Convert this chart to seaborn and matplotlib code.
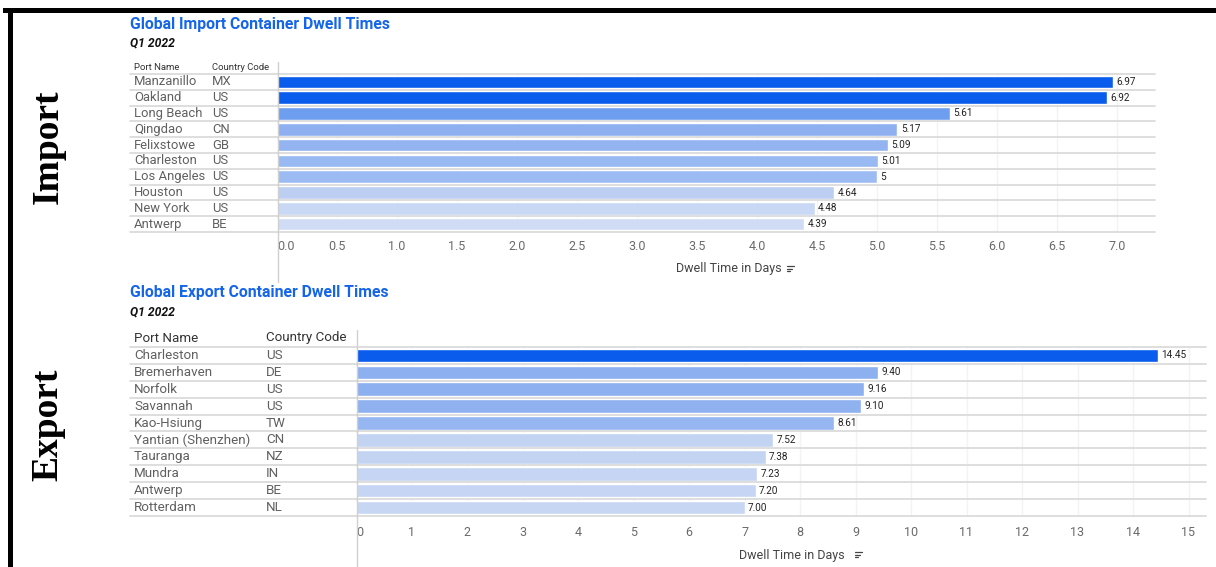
import matplotlib.pyplot as plt
import seaborn as sns
import pandas as pd
from matplotlib.lines import Line2D
from matplotlib.patches import Rectangle
from matplotlib.transforms import blended_transform_factory

W, H = 1216, 567

# Import chart data
import_ports = ["Manzanillo", "Oakland", "Long Beach", "Qingdao", "Felixstowe",
                "Charleston", "Los Angeles", "Houston", "New York", "Antwerp"]
import_codes = ["MX", "US", "US", "CN", "GB", "US", "US", "US", "US", "BE"]
import_days = [6.97, 6.92, 5.61, 5.17, 5.09, 5.01, 5.0, 4.64, 4.48, 4.39]
import_ticks = [0.0, 0.5, 1.0, 1.5, 2.0, 2.5, 3.0, 3.5, 4.0, 4.5, 5.0, 5.5, 6.0, 6.5, 7.0]

# Export chart data
export_ports = ["Charleston", "Bremerhaven", "Norfolk", "Savannah", "Kao-Hsiung",
                "Yantian (Shenzhen)", "Tauranga", "Mundra", "Antwerp", "Rotterdam"]
export_codes = ["US", "DE", "US", "US", "TW", "CN", "NZ", "IN", "BE", "NL"]
export_days = [14.45, 9.40, 9.16, 9.10, 8.61, 7.52, 7.38, 7.23, 7.20, 7.00]
export_ticks = list(range(16))

# bar colours (shaded by value, as in the original dashboard)
import_colors = ["#0a5ced", "#0a5ced", "#6e9ef0", "#8eb0f1", "#93b4f1",
                 "#99b9f2", "#9cbbf2", "#bccff3", "#c9d8f5", "#d0dcf5"]
export_colors = ["#0a5ced", "#8db0f0", "#8db0f0", "#8fb1f0", "#95b6f1",
                 "#c3d4f3", "#c3d4f3", "#c5d5f3", "#c5d5f3", "#c6d6f3"]

TITLE_BLUE = "#1565e8"
TEXT_GREY = "#606060"
LINE_GREY = "#d8d8d8"

sns.set_theme(style="white")
plt.rcParams["font.family"] = ["Roboto", "DejaVu Sans"]

fig = plt.figure(figsize=(W / 100, H / 100), dpi=100)


def fx(x):
    return x / W


def fy(y):
    return 1 - y / H


def rect(left, top, right, bottom):
    return [fx(left), fy(bottom), (right - left) / W, (bottom - top) / H]


def draw_panel(cfg):
    ax = fig.add_axes(rect(cfg["left"], cfg["top"], cfg["right"], cfg["bottom"]))
    df = pd.DataFrame({"port": cfg["ports"], "code": cfg["codes"], "days": cfg["days"]})
    sns.barplot(data=df, x="days", y="port", hue="port", palette=cfg["colors"],
                legend=False, orient="h", width=0.8, saturation=1, ax=ax)
    n = len(df)
    ax.set_ylim(n - 0.5, -0.5)
    ax.set_xlim(0, cfg["xmax"])
    ax.set_xticks(cfg["ticks"])
    ax.set_xticklabels(cfg["ticklabels"], color="#6a6a6a", fontsize=cfg["tick_fs"])
    ax.get_xticklabels()[0].set_horizontalalignment("left")
    ax.tick_params(axis="x", length=0, pad=cfg["pad"])
    ax.set_yticks([])
    ax.set_xlabel("")
    ax.set_ylabel("")
    for s in ax.spines.values():
        s.set_visible(False)
    ax.grid(axis="x", color="#f3f3f3", lw=1)
    ax.set_axisbelow(True)

    # value labels
    for i, (v, lab) in enumerate(zip(df["days"], cfg["labels"])):
        ax.annotate(lab, (v, i), xytext=(2.5, 0), textcoords="offset points",
                    va="center", ha="left", fontsize=cfg["val_fs"], color="#222222")

    # table part on the left
    tr = blended_transform_factory(fig.transFigure, ax.transData)
    for i, (p, c) in enumerate(zip(df["port"], df["code"])):
        ax.text(fx(134), i, p, transform=tr, va="center", ha="left",
                fontsize=cfg["row_fs"], color=TEXT_GREY, clip_on=False)
        ax.text(fx(cfg["code_x"]), i, c, transform=tr, va="center", ha="left",
                fontsize=cfg["row_fs"], color=TEXT_GREY, clip_on=False)
    for k in range(n + 1):
        ax.add_line(Line2D([fx(130), fx(cfg["right"])], [k - 0.5, k - 0.5], transform=tr,
                           color=LINE_GREY, lw=1.2, clip_on=False))

    # header row
    fig.text(fx(134), fy(cfg["head_y"]), "Port Name", va="center", ha="left",
             fontsize=cfg["head_fs"], color="#333333")
    fig.text(fx(cfg["code_x"]), fy(cfg["head_y"]), "Country Code", va="center", ha="left",
             fontsize=cfg["head_fs"], color="#333333")

    # vertical divider between table and bars
    fig.add_artist(Line2D([fx(cfg["left"] + 1)] * 2, [fy(cfg["vtop"]), fy(cfg["vbot"])],
                          color="#d0d0d0", lw=1))

    # titles
    fig.text(fx(130), fy(cfg["title_y"]), cfg["title"], va="center", ha="left",
             fontsize=11.3, fontweight="bold", color=TITLE_BLUE)
    fig.text(fx(130), fy(cfg["title_y"] + 19), "Q1 2022", va="center", ha="left",
             fontsize=8.7, fontweight="bold", fontstyle="italic", color="#111111")

    # axis title with sort icon
    lx, ly = cfg["xlabel_pos"]
    fig.text(fx(lx), fy(ly), "Dwell Time in Days", va="center", ha="center",
             fontsize=cfg["tick_fs"], color="#444444")
    ix = cfg["icon_x"]
    for j, w in enumerate([7, 5, 3]):
        yy = ly - 3 + j * 2.6
        fig.add_artist(Line2D([fx(ix), fx(ix + w)], [fy(yy), fy(yy)], color="#444444", lw=0.9))

    # big side label
    fig.text(fx(48), fy(cfg["side_y"]), cfg["side"], rotation=90, va="center", ha="center",
             fontsize=27, fontweight="bold", family="Liberation Serif", color="black")
    return ax


draw_panel(dict(
    ports=import_ports, codes=import_codes, days=import_days, colors=import_colors,
    labels=[f"{v:g}" for v in import_days],
    ticks=import_ticks, ticklabels=[f"{t:.1f}" for t in import_ticks],
    left=277, right=1155, top=74, bottom=232, xmax=(1155 - 277) / 120,
    code_x=212, head_y=68, head_fs=6.8, row_fs=9.4, tick_fs=9, val_fs=7.2, pad=6,
    vtop=62, vbot=282, title="Global Import Container Dwell Times", title_y=24,
    xlabel_pos=(729, 269), icon_x=787, side="Import", side_y=147,
))

draw_panel(dict(
    ports=export_ports, codes=export_codes, days=export_days, colors=export_colors,
    labels=[f"{v:.2f}" for v in export_days],
    ticks=export_ticks, ticklabels=[str(t) for t in export_ticks],
    left=356, right=1206, top=347, bottom=516, xmax=(1206 - 356) / 55.5,
    code_x=266, head_y=338, head_fs=9.6, row_fs=9.6, tick_fs=9, val_fs=7.2, pad=7,
    vtop=330, vbot=567, title="Global Export Container Dwell Times", title_y=293,
    xlabel_pos=(792, 555), icon_x=855, side="Export", side_y=425,
))

# black frame on top and left
fig.add_artist(Rectangle((fx(3), fy(13)), fx(1216) - fx(3), (13 - 8) / H,
                         transform=fig.transFigure, color="black", lw=0))
fig.add_artist(Rectangle((fx(8), 0), 5 / W, fy(8), transform=fig.transFigure,
                         color="black", lw=0))

fig.savefig("out.png", dpi=100)
